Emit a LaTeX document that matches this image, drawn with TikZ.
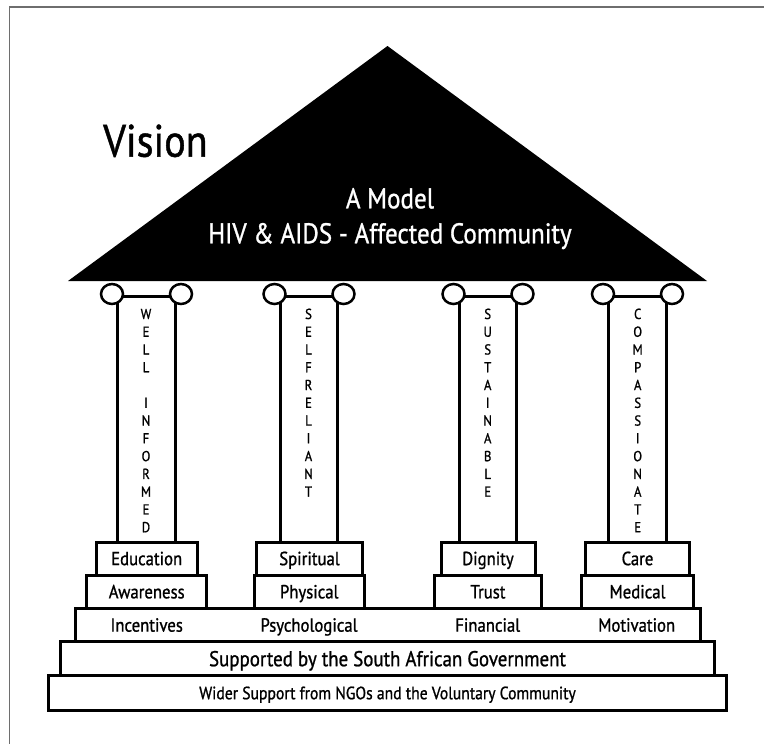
\documentclass[tikz,border=0pt]{standalone}
\usepackage{fontspec}
\setmainfont{PT Sans}[FakeStretch=0.88,FakeBold=1]
\definecolor{framegray}{RGB}{110,110,110}
\begin{document}
\begin{tikzpicture}[x=1pt,y=-1pt,
  bx/.style={draw=black,line width=3pt,rectangle,inner sep=0pt,fill=white,
    text height=13.3pt,text depth=0pt,font=\fontsize{19}{22}\selectfont},
  tierlbl/.style={inner sep=0pt,text height=13.3pt,text depth=0pt,font=\fontsize{19}{22}\selectfont},
  shaft/.style={line width=2.7pt},
  capital/.style={line width=2.5pt,fill=white},
  colletter/.style={anchor=base,inner sep=0pt,font=\fontsize{14.5}{16}\selectfont}]
\useasboundingbox (0,0) rectangle (764,744);
% frame
\draw[framegray,line width=1.5pt] (9.5,744) -- (9.5,7) -- (764,7);
% roof
\fill[black] (68,281) -- (387.5,46) -- (707,281) -- cycle;
\node[anchor=base west,inner sep=0pt,font=\fontsize{45.5}{54}\selectfont] (vision) at (103,156.7) {Vision};
\node[anchor=base,inner sep=0pt,text=white,font=\fontsize{28.5}{30}\selectfont] (model1) at (390,208.3) {A Model};
\node[anchor=base,inner sep=0pt,text=white,font=\fontsize{28.5}{30}\selectfont] (model2) at (390,243.3) {HIV \& AIDS - Affected Community};
% columns
\foreach \c in {146.5,309,488,637.5}{
  \draw[shaft] (\c-28.75,296.7) -- (\c-28.75,542);
  \draw[shaft] (\c+28.75,296.7) -- (\c+28.75,542);
  \draw[capital] (\c-34.5,296.7) -- (\c+34.5,296.7);
  \draw[capital] (\c-34.5,294) ellipse [x radius=11, y radius=10];
  \draw[capital] (\c+34.5,294) ellipse [x radius=11, y radius=10];
}
% column letters
\foreach \l/\i in {W/0,E/1,L/2,L/3,I/5,N/6,F/7,O/8,R/9,M/10,E/11,D/12}
  \node[colletter] (wi\i) at (146,319+\i*17.77) {\l};
\foreach \l/\i in {S/0,E/1,L/2,F/3,R/4,E/5,L/6,I/7,A/8,N/9,T/10}
  \node[colletter] (sr\i) at (308.5,319+\i*17.77) {\l};
\foreach \l/\i in {S/0,U/1,S/2,T/3,A/4,I/5,N/6,A/7,B/8,L/9,E/10}
  \node[colletter] (su\i) at (487.7,319+\i*17.77) {\l};
\foreach \l/\i in {C/0,O/1,M/2,P/3,A/4,S/5,S/6,I/7,O/8,N/9,A/10,T/11,E/12}
  \node[colletter] (co\i) at (637.7,319+\i*17.77) {\l};
% pillar bases
\node[bx,minimum width=101pt,minimum height=33pt] (edu) at (146.7,558.5) {Education};
\node[bx,minimum width=120pt,minimum height=33.3pt] (awa) at (146.7,591.7) {Awareness};
\node[bx,minimum width=106pt,minimum height=33pt] (spi) at (309.5,558.5) {Spiritual};
\node[bx,minimum width=110pt,minimum height=33.3pt] (phy) at (309.2,591.7) {Physical};
\node[bx,minimum width=94pt,minimum height=33pt] (dig) at (488,558.5) {Dignity};
\node[bx,minimum width=107.4pt,minimum height=33.3pt] (tru) at (488,591.7) {Trust};
\node[bx,minimum width=103.6pt,minimum height=33pt] (car) at (637.5,558.5) {Care};
\node[bx,minimum width=111.6pt,minimum height=33.3pt] (med) at (637.5,591.7) {Medical};
% steps
\node[bx,minimum width=625.7pt,minimum height=33.4pt] (step3) at (387.85,625) {};
\node[tierlbl] (inc) at (146.7,625) {Incentives};
\node[tierlbl] (psy) at (309,625) {Psychological};
\node[tierlbl] (fin) at (487.7,625) {Financial};
\node[tierlbl] (mot) at (636.7,625) {Motivation};
\node[bx,minimum width=653.6pt,minimum height=34pt,text height=15pt,font=\fontsize{21.5}{25}\selectfont] (step4) at (387.5,658.7) {Supported by the South African Government};
\node[bx,minimum width=678.4pt,minimum height=35pt,text height=12pt,font=\fontsize{17.8}{20}\selectfont] (step5) at (387.5,693.2) {Wider Support from NGOs and the Voluntary Community};
\end{tikzpicture}
\end{document}
